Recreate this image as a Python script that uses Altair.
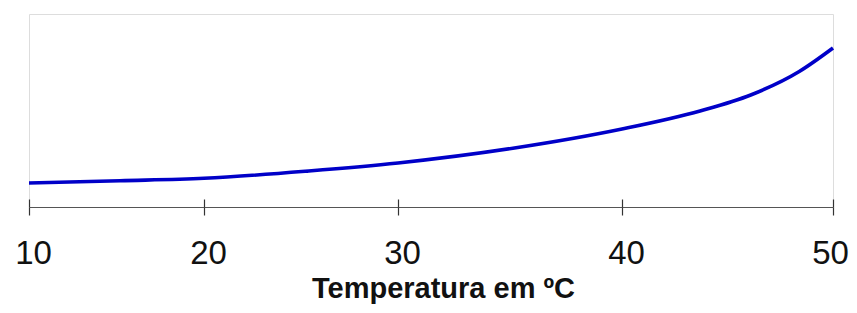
import altair as alt
import pandas as pd

# Data
temperature = [10, 15.2, 20, 25.4, 30, 35.2, 40, 43.7, 46.1, 48.4, 50]
value = [24, 26.3, 28.7, 36, 44, 59, 78, 96, 112, 135.5, 159]
tick_values = [10, 20, 30, 40, 50]
x_title = "Temperatura em ºC"

df = pd.DataFrame({"T": temperature, "V": value})

x_scale = alt.Scale(domain=tick_values, range=[0, 175, 369, 593, 804])
y_scale = alt.Scale(domain=[0, 193])

line = alt.Chart(df).mark_line(
    color="#0000C8", strokeWidth=3.6, interpolate="monotone"
).encode(
    x=alt.X("T:Q", scale=x_scale, axis=alt.Axis(
        values=tick_values, title=x_title, format="d",
        domainColor="#555555", domainWidth=1.2,
        tickColor="#333333", tickSize=8, tickWidth=1.2,
        labelFont="Liberation Sans", labelFontSize=33, labelColor="#111111",
        labelPadding=22,
        labelOffset={"condition": {"test": "datum.value == 50", "value": -3}, "value": 4},
        labelOverlap=False, labelBound=False,
        labelFlush=False, grid=False,
        titleFont="Liberation Sans", titleFontSize=29, titleFontWeight="bold",
        titleColor="#111111", titleX=414, titleY=90, titleBaseline="alphabetic",
        titleAnchor="middle", titleAlign="center",
    )),
    y=alt.Y("V:Q", scale=y_scale, axis=alt.Axis(
        labels=False, ticks=False, grid=False, title=None,
        domainColor="#555555", domainWidth=1.2,
    )),
)

ticks_up = alt.Chart(df).mark_line(opacity=0).encode(
    x=alt.X("T:Q", scale=x_scale, axis=alt.Axis(
        orient="bottom", offset=-8, values=tick_values, labels=False,
        domain=False, title=None, grid=False,
        tickColor="#333333", tickSize=8, tickWidth=1.2,
    )),
    y=alt.Y("V:Q", scale=y_scale, axis=None),
)

chart = alt.layer(line, ticks_up).resolve_axis(x="independent").properties(
    width=804, height=193,
    autosize=alt.AutoSizeParams(type="none"),
    padding={"left": 21, "top": 6, "right": 16, "bottom": 98},
).configure_view(stroke="#999999", strokeWidth=1.2).configure(background="white")

chart.save("out.html", embed_options={"renderer": "svg", "actions": False})
